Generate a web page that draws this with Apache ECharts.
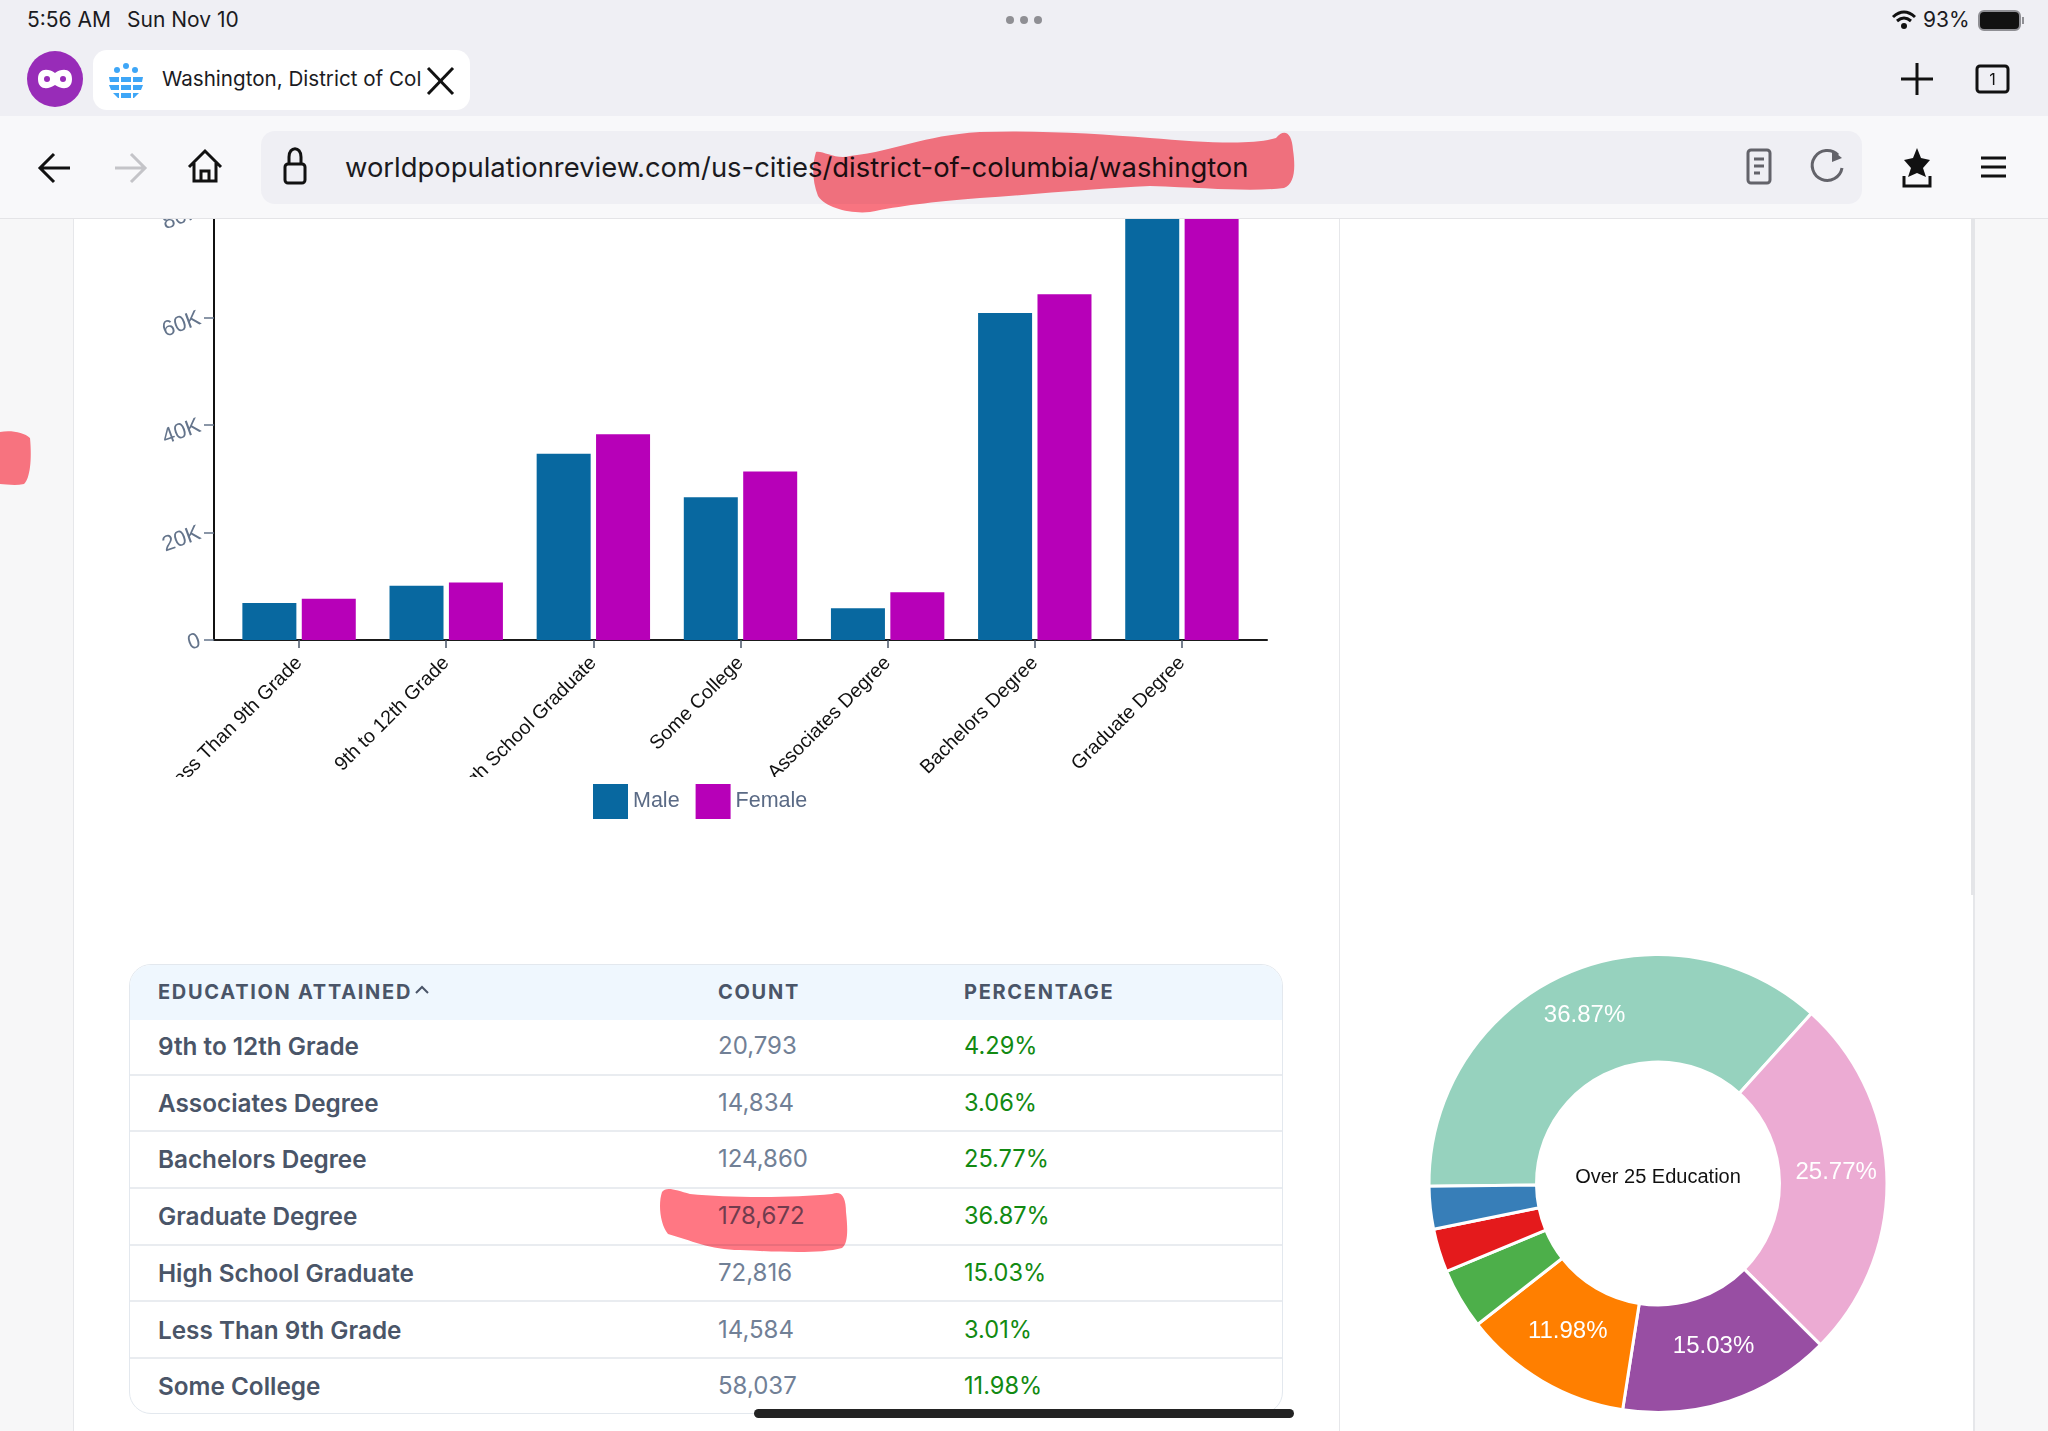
<!DOCTYPE html>
<html>
<head>
<meta charset="utf-8">
<title>Washington education</title>
<script src="https://cdn.jsdelivr.net/npm/echarts@6/dist/echarts.min.js"></script>
<style>
html,body{margin:0;padding:0;width:2048px;height:1431px;overflow:hidden;background:#f7f7f8;font-family:Inter,"Liberation Sans",sans-serif;}
#panel{position:absolute;left:73px;top:0;width:1902px;height:1431px;background:#fff;border-left:1px solid #e6e7ea;border-right:2px solid #e6e7ea;box-sizing:border-box;}
#scroll{position:absolute;left:1971px;top:218px;width:4px;height:677px;background:#e4e5e8;}
#divider{position:absolute;left:1339px;top:218px;width:1px;height:1213px;background:#e6e7ea;}
#chart{position:absolute;left:0;top:0;width:2048px;height:1431px;}
#chrome{position:absolute;left:0;top:0;width:2048px;height:219px;background:#f8f8fa;border-bottom:1px solid #e4e4e7;box-sizing:border-box;z-index:5;}
#tabbar{position:absolute;left:0;top:0;width:2048px;height:116px;background:#efeff4;}
#tab{position:absolute;left:93px;top:50px;width:377px;height:60px;background:#fff;border-radius:14px;}
#pill{position:absolute;left:261px;top:131px;width:1601px;height:73px;background:#efeff4;border-radius:14px;}
.t{position:absolute;white-space:nowrap;color:#1b1b1f;line-height:1;}
#icons{position:absolute;left:0;top:0;z-index:7;}
#table{position:absolute;left:129px;top:964px;width:1154px;height:450px;border:1px solid #e3e8ee;border-radius:22px;box-sizing:border-box;overflow:hidden;background:#fff;z-index:2;}
#thead{position:absolute;left:0;top:0;width:100%;height:55px;background:#eff7fe;}
.th{position:absolute;top:16px;font-size:20px;font-weight:700;letter-spacing:1.7px;color:#4a5568;line-height:22px;white-space:nowrap;}
.row{position:absolute;left:0;width:100%;height:56.7px;border-bottom:2px solid #e9ecf0;box-sizing:border-box;}
.row span{position:absolute;top:13px;line-height:28px;font-size:24px;white-space:nowrap;}
.row .name{left:28px;font-weight:600;font-size:24.3px;color:#4a5568;}
.row .cnt{left:588px;color:#718096;}
.row .pct{left:834px;font-size:23.6px;color:#128a12;}
.bar{position:absolute;left:754px;top:1409px;width:540px;height:9px;border-radius:5px;background:#232323;z-index:8;}
#marks{position:absolute;left:0;top:0;z-index:6;pointer-events:none;mix-blend-mode:multiply;}
</style>
</head>
<body>
<div id="panel"></div>
<div id="scroll"></div>
<div id="divider"></div>
<div id="chart"></div>

<div id="table"></div>

<div id="chrome">
  <div id="tabbar"></div>
  <div id="tab"></div>
  <div id="pill"></div>
  <div class="t" style="left:27px;top:9px;font-size:21px;">5:56 AM</div>
  <div class="t" style="left:127px;top:9px;font-size:21px;">Sun Nov 10</div>
  <div class="t" style="left:1923px;top:9px;font-size:21px;">93%</div>
  <div class="t" style="left:162px;top:69px;font-size:20.6px;">Washington, District of Col</div>
  <div class="t" style="left:345px;top:154px;font-size:27.4px;">worldpopulationreview.com/us-cities/district-of-columbia/washington</div>
</div>

<svg id="marks" width="2048" height="1431">
  <g fill="#ff7783">
    <path d="M816 152 C822 150 836 160 850 156 C900 150 920 136 980 132 C1040 130 1100 134 1150 138 C1200 142 1250 146 1276 138 C1284 128 1292 132 1293 150 C1296 170 1294 184 1284 188 C1250 192 1210 188 1150 186 C1100 188 1040 194 980 198 C930 202 900 206 870 212 C850 214 826 208 818 196 C812 180 812 165 816 152 Z"/>
    <path d="M662 1192 C666 1186 676 1190 690 1194 C730 1198 790 1198 832 1194 C842 1190 846 1198 846 1212 C848 1230 848 1244 842 1248 C820 1254 780 1252 740 1250 C710 1250 690 1240 668 1234 C660 1224 658 1204 662 1192 Z"/>
    <path d="M0 432 C10 430 24 432 30 438 C32 460 30 478 24 484 C14 486 6 484 0 484 Z"/>
  </g>
</svg>

<svg id="icons" width="2048" height="219">
  <!-- status bar -->
  <g fill="#8f8f94"><circle cx="1010" cy="20" r="4"/><circle cx="1024" cy="20" r="4"/><circle cx="1038" cy="20" r="4"/></g>
  <g fill="none" stroke="#111" stroke-width="3">
    <path d="M1893 17 Q1904 7 1915 17"/><path d="M1897 21 Q1904 15 1911 21"/>
  </g>
  <circle cx="1904" cy="26" r="3" fill="#111"/>
  <rect x="1979" y="11" width="41" height="19" rx="5" fill="#111" stroke="#8f8f94" stroke-width="2"/>
  <rect x="2022" y="17" width="2" height="7" fill="#8f8f94"/>
  <!-- tab -->
  <circle cx="55" cy="79" r="28" fill="#982cb8"/>
  <path d="M38 79 C38 68 48 68 55 73 C62 68 72 68 72 79 C72 90 62 90 55 85 C48 90 38 90 38 79 Z" fill="#fff"/>
  <circle cx="47" cy="79" r="3" fill="#982cb8"/><circle cx="63" cy="79" r="3" fill="#982cb8"/>
  <g fill="#3ea6f7">
    <circle cx="126" cy="66" r="3"/><circle cx="117" cy="70" r="3"/><circle cx="135" cy="70" r="3"/>
    <path d="M109 77 H143 L142 82 H110 Z"/><path d="M109 85 H143 L141 90 H111 Z"/><path d="M113 93 H139 L134 98 H118 Z"/>
  </g>
  <g stroke="#fff" stroke-width="2"><line x1="120" y1="74" x2="120" y2="98"/><line x1="132" y1="74" x2="132" y2="98"/></g>
  <g stroke="#111" stroke-width="3" fill="none"><line x1="428" y1="68" x2="453" y2="94"/><line x1="453" y1="68" x2="428" y2="94"/></g>
  <!-- plus, tabs -->
  <g stroke="#111" stroke-width="3"><line x1="1917" y1="63" x2="1917" y2="95"/><line x1="1901" y1="79" x2="1933" y2="79"/></g>
  <rect x="1977" y="66" width="31" height="26" rx="3" fill="none" stroke="#111" stroke-width="3"/>
  <text x="1992.5" y="85" font-size="16" text-anchor="middle" fill="#111" font-family="Inter">1</text>
  <!-- nav -->
  <g fill="none" stroke="#111" stroke-width="3">
    <path d="M70 168 H41 M54 154 L40 168 L54 182"/>
    <path d="M189 167 L205 151 L221 167 M194 163 V181 H216 V163 M201 181 V171 H209 V181"/>
    <rect x="285" y="164" width="20" height="19" rx="3"/>
    <path d="M289 164 V157 C289 146 301 146 301 157 V164"/>
  </g>
  <path d="M115 168 H144 M131 154 L145 168 L131 182" fill="none" stroke="#c4c4c8" stroke-width="3"/>
  <!-- right icons -->
  <g fill="none" stroke="#63636a" stroke-width="3">
    <rect x="1748" y="150" width="22" height="33" rx="3"/>
    <path d="M1754 159 H1764 M1754 166 H1764 M1754 173 H1760"/>
    <path d="M1838 155 A15 15 0 1 0 1842 168"/>
  </g>
  <path d="M1832 150 L1842 158 L1832 162 Z" fill="#63636a"/>
  <path d="M1917 148 L1921 158 L1930 160 L1923 168 L1926 177 L1917 173 L1908 177 L1911 168 L1904 160 L1913 158 Z" fill="#111"/>
  <path d="M1904 176 V186 H1930 V176" fill="none" stroke="#111" stroke-width="3"/>
  <g stroke="#111" stroke-width="3"><line x1="1981" y1="158" x2="2006" y2="158"/><line x1="1981" y1="167" x2="2006" y2="167"/><line x1="1981" y1="176" x2="2006" y2="176"/></g>
</svg>
<div class="bar"></div>

<script>
// grouped bars
var categories = ['Less Than 9th Grade', '9th to 12th Grade', 'High School Graduate', 'Some College', 'Associates Degree', 'Bachelors Degree', 'Graduate Degree'];
var maleValues = [6900, 10100, 34700, 26600, 5900, 60900, 84200];
var femaleValues = [7700, 10700, 38300, 31400, 8900, 64400, 94500];
var yTicks = {0: '0', 20000: '20K', 40000: '40K', 60000: '60K', 80000: '80K', 100000: '100K'};

// table rows
var tableNames = ['9th to 12th Grade', 'Associates Degree', 'Bachelors Degree', 'Graduate Degree', 'High School Graduate', 'Less Than 9th Grade', 'Some College'];
var tableCounts = ['20,793', '14,834', '124,860', '178,672', '72,816', '14,584', '58,037'];
var tablePercents = ['4.29%', '3.06%', '25.77%', '36.87%', '15.03%', '3.01%', '11.98%'];

// donut
var pieNames = ['Graduate Degree', 'Bachelors Degree', 'High School Graduate', 'Some College', '9th to 12th Grade', 'Associates Degree', 'Less Than 9th Grade'];
var pieCounts = [178672, 124860, 72816, 58037, 20793, 14834, 14584];
var pieLabels = ['36.87%', '25.77%', '15.03%', '11.98%', '', '', ''];
var pieColors = ['#96d2be', '#ecabd3', '#984ea3', '#ff7f00', '#4daf4a', '#e41a1c', '#377eb8'];

function buildTable() {
    var box = document.getElementById('table');
    var html = '<div id="thead"><div class="th" style="left:28px">EDUCATION ATTAINED</div>' +
        '<svg style="position:absolute;left:284px;top:19px" width="16" height="12"><path d="M2 9 L8 3 L14 9" fill="none" stroke="#4a5568" stroke-width="2"/></svg>' +
        '<div class="th" style="left:588px">COUNT</div><div class="th" style="left:834px">PERCENTAGE</div></div>';
    for (var i = 0; i < tableNames.length; i++) {
        html += '<div class="row" style="top:' + (54 + i * 56.7) + 'px">' +
            '<span class="name">' + tableNames[i] + '</span>' +
            '<span class="cnt">' + tableCounts[i] + '</span>' +
            '<span class="pct">' + tablePercents[i] + '</span></div>';
    }
    box.innerHTML = html;
}

function initChart() {
    var charts = echarts.init(document.getElementById('chart'));
    var pieData = [];
    for (var i = 0; i < pieNames.length; i++) {
        pieData.push({name: pieNames[i], value: pieCounts[i], itemStyle: {color: pieColors[i]}});
    }
    var option = {
        animation: false,
        backgroundColor: 'transparent',
        textStyle: {fontFamily: 'Liberation Sans'},
        // grid 0 holds the bands, grid 1 is a bit wider and only draws the axis lines
        grid: [
            {left: 225.5, width: 1030, top: 103, height: 537},
            {left: 214, width: 1053, top: 103, height: 537}
        ],
        xAxis: [
            {
                type: 'category', gridIndex: 0, data: categories,
                axisLine: {show: false},
                axisTick: {show: true, alignWithLabel: true, length: 8, lineStyle: {color: '#4a5568', width: 1.5}},
                axisLabel: {interval: 0, rotate: 45, margin: 20, fontSize: 19.6, color: '#111'}
            },
            {
                type: 'value', gridIndex: 1, min: 0, max: 1, position: 'bottom',
                axisLine: {show: true, lineStyle: {color: '#1a1a1a', width: 2}},
                axisTick: {show: false}, axisLabel: {show: false}, splitLine: {show: false}
            }
        ],
        yAxis: [
            {
                type: 'value', gridIndex: 0, min: 0, max: 100000,
                axisLine: {show: false}, axisTick: {show: false}, axisLabel: {show: false}, splitLine: {show: false}
            },
            {
                type: 'value', gridIndex: 1, min: 0, max: 100000, interval: 20000,
                axisLine: {show: true, lineStyle: {color: '#111', width: 2}},
                axisTick: {show: true, length: 10, lineStyle: {color: '#64748b', width: 1.5}},
                splitLine: {show: false},
                axisLabel: {
                    rotate: 20, margin: 14, fontSize: 22, color: '#64748b', padding: [14, 0, 0, 0],
                    formatter: function (v) { return yTicks[v]; }
                }
            }
        ],
        legend: {
            left: 593, top: 784, z: 6, padding: 0, icon: 'rect', itemWidth: 35, itemHeight: 35, itemGap: 16,
            selectedMode: false,
            data: ['Male', 'Female'],
            textStyle: {fontSize: 21.5, color: '#5a6a85'}
        },
        // long labels get cut at the bottom of the svg in the original
        graphic: [{
            type: 'rect', z: 4, silent: true,
            shape: {x: 100, y: 777, width: 1230, height: 80},
            style: {fill: '#fff'}
        }, {
            type: 'text', z: 4, silent: true,
            x: 1658, y: 1177,
            style: {text: 'Over 25 Education', fontSize: 20, fontFamily: 'Liberation Sans', fill: '#111', align: 'center', verticalAlign: 'middle'}
        }],
        series: [
            {
                name: 'Male', type: 'bar', xAxisIndex: 0, yAxisIndex: 0, data: maleValues,
                barWidth: 54, barGap: '10%', itemStyle: {color: '#0868a0'}, clip: false
            },
            {
                name: 'Female', type: 'bar', xAxisIndex: 0, yAxisIndex: 0, data: femaleValues,
                barWidth: 54, itemStyle: {color: '#b700b8'}, clip: false
            },
            {
                name: 'Over 25', type: 'pie', center: [1658, 1183.5], radius: [121.5, 229],
                startAngle: 180.7, clockwise: true, data: pieData, sort: null,
                itemStyle: {borderColor: '#fff', borderWidth: 3},
                labelLine: {show: false},
                label: {
                    show: true, position: 'inside', fontSize: 24, color: '#fff', offset: [0, -6],
                    formatter: function (p) { return pieLabels[p.dataIndex]; }
                }
            }
        ]
    };
    charts.setOption(option);
}

buildTable();
initChart();
</script>
</body>
</html>
